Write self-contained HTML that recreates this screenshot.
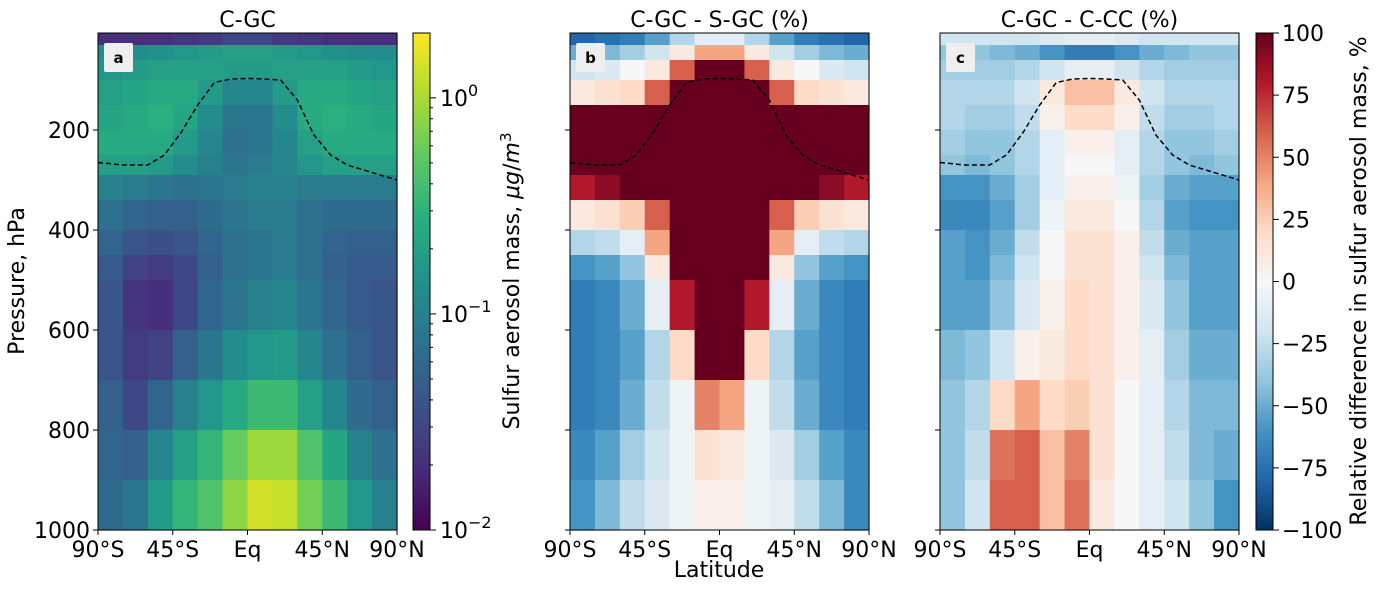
<!DOCTYPE html>
<html><head><meta charset="utf-8"><style>
html,body{margin:0;padding:0;background:#fff;}
svg{display:block;font-family:"DejaVu Sans","Liberation Sans",sans-serif;}
</style></head><body>
<svg id="fig" width="1376" height="589" viewBox="0 0 1376 589" xmlns="http://www.w3.org/2000/svg">
<defs>
<linearGradient id="gvir" x1="0" y1="1" x2="0" y2="0">
<stop offset="0" stop-color="#440154"/><stop offset="0.125" stop-color="#472d7b"/><stop offset="0.25" stop-color="#3b528b"/><stop offset="0.375" stop-color="#2c728e"/><stop offset="0.5" stop-color="#21918c"/><stop offset="0.625" stop-color="#28ae80"/><stop offset="0.75" stop-color="#5ec962"/><stop offset="0.875" stop-color="#addc30"/><stop offset="1" stop-color="#fde725"/>
</linearGradient>
<linearGradient id="grdbu" x1="0" y1="1" x2="0" y2="0">
<stop offset="0" stop-color="#053061"/><stop offset="0.1" stop-color="#2166ac"/><stop offset="0.2" stop-color="#4393c3"/><stop offset="0.3" stop-color="#92c5de"/><stop offset="0.4" stop-color="#d1e5f0"/><stop offset="0.5" stop-color="#f7f7f7"/><stop offset="0.6" stop-color="#fddbc7"/><stop offset="0.7" stop-color="#f4a582"/><stop offset="0.8" stop-color="#d6604d"/><stop offset="0.9" stop-color="#b2182b"/><stop offset="1" stop-color="#67001f"/>
</linearGradient>
</defs>
<g id="root"></g>
</svg>
<script>
// ---- data ----
const latEdges = [-90,-75,-60,-45,-30,-15,0,15,30,45,60,75,90];
const presEdges = [6,30,60,100,150,200,250,290,340,400,450,500,600,700,800,900,1000];
const xTickLats = [-90,-45,0,45,90];
const xTickLabels = ["90°S","45°S","Eq","45°N","90°N"];
const yTickVals = [200,400,600,800,1000];
const tropLat = [-90,-75,-60,-50,-40,-30,-20,-10,0,10,20,30,40,50,60,75,90];
const tropPres = [265,270,270,250,205,150,105,98,97,98,100,140,210,250,270,285,300];
// panel a: log10 of sulfur aerosol mass (ug/m3)
const massLog = [
[-1.7,-1.7,-1.7,-1.65,-1.6,-1.5,-1.5,-1.6,-1.65,-1.7,-1.7,-1.7],
[-0.9,-0.9,-0.85,-0.8,-0.75,-0.7,-0.7,-0.75,-0.8,-0.85,-0.9,-0.9],
[-0.8,-0.75,-0.7,-0.7,-0.7,-0.75,-0.75,-0.7,-0.7,-0.7,-0.75,-0.8],
[-0.7,-0.65,-0.6,-0.6,-0.75,-0.95,-0.95,-0.75,-0.6,-0.6,-0.65,-0.7],
[-0.65,-0.6,-0.55,-0.65,-0.9,-1.1,-1.1,-0.9,-0.6,-0.55,-0.6,-0.65],
[-0.6,-0.6,-0.6,-0.75,-0.95,-1.15,-1.1,-0.95,-0.7,-0.6,-0.6,-0.6],
[-0.7,-0.7,-0.75,-0.9,-1.0,-1.1,-1.05,-0.95,-0.8,-0.7,-0.7,-0.7],
[-1.0,-1.05,-1.1,-1.15,-1.1,-1.05,-1.0,-1.0,-1.05,-1.05,-1.05,-1.05],
[-1.15,-1.25,-1.3,-1.3,-1.2,-1.1,-1.05,-1.05,-1.15,-1.2,-1.2,-1.2],
[-1.25,-1.4,-1.45,-1.4,-1.25,-1.15,-1.1,-1.05,-1.15,-1.25,-1.3,-1.3],
[-1.35,-1.55,-1.6,-1.5,-1.3,-1.15,-1.1,-1.05,-1.15,-1.3,-1.35,-1.35],
[-1.4,-1.65,-1.7,-1.5,-1.25,-1.1,-1.0,-0.95,-1.1,-1.25,-1.35,-1.4],
[-1.4,-1.6,-1.55,-1.3,-1.1,-0.9,-0.8,-0.75,-0.95,-1.15,-1.3,-1.4],
[-1.3,-1.5,-1.25,-1.0,-0.8,-0.6,-0.45,-0.45,-0.7,-0.95,-1.2,-1.3],
[-1.25,-1.3,-0.95,-0.7,-0.5,-0.25,-0.05,-0.05,-0.35,-0.65,-1.0,-1.15],
[-1.2,-1.1,-0.75,-0.5,-0.35,-0.1,0.15,0.1,-0.2,-0.45,-0.8,-1.0]];
// panel b: C-GC vs S-GC relative difference (%)
const diffB = [
[-80,-75,-70,-55,-30,-10,-10,-30,-55,-70,-75,-80],
[-50,-45,-35,-20,10,40,40,10,-20,-35,-45,-50],
[-20,-15,0,10,60,110,110,60,10,0,-15,-20],
[10,15,20,60,120,120,120,120,60,20,15,10],
[110,110,110,110,110,110,110,110,110,110,110,110],
[110,110,110,110,110,110,110,110,110,110,110,110],
[110,110,110,110,110,110,110,110,110,110,110,110],
[80,90,110,110,110,110,110,110,110,110,90,80],
[10,15,25,60,110,110,110,110,60,25,15,10],
[-30,-25,-10,40,110,110,110,110,40,-10,-25,-30],
[-60,-55,-40,10,110,110,110,110,10,-40,-55,-60],
[-70,-65,-50,-10,80,110,110,80,-10,-50,-65,-70],
[-70,-65,-55,-30,20,110,110,20,-30,-55,-65,-70],
[-70,-65,-50,-25,-5,50,40,-5,-25,-50,-65,-70],
[-65,-55,-35,-20,-5,15,10,-5,-15,-35,-55,-65],
[-60,-45,-25,-15,-5,5,5,-5,-10,-25,-45,-65]];
// panel c: C-GC vs C-CC relative difference (%)
const diffC = [
[-20,-20,-20,-20,-15,-10,-10,-15,-20,-20,-20,-20],
[-40,-40,-45,-50,-60,-70,-70,-60,-50,-45,-40,-40],
[-35,-35,-35,-30,-20,-10,-10,-20,-30,-35,-35,-35],
[-30,-30,-30,-20,10,30,30,10,-20,-30,-30,-30],
[-30,-35,-35,-25,5,20,20,5,-25,-35,-35,-30],
[-35,-40,-40,-30,-10,5,5,-10,-30,-40,-40,-35],
[-40,-45,-40,-30,-10,0,0,-10,-30,-40,-45,-40],
[-60,-60,-50,-35,-10,5,5,-5,-35,-50,-55,-55],
[-65,-65,-55,-35,-5,10,10,0,-30,-55,-60,-60],
[-55,-60,-50,-25,0,15,15,5,-25,-50,-55,-55],
[-55,-60,-45,-20,0,15,15,5,-20,-45,-55,-55],
[-55,-55,-40,-15,5,20,15,5,-15,-40,-55,-55],
[-45,-40,-20,5,10,20,15,5,-10,-35,-50,-50],
[-40,-30,20,40,20,25,15,0,-10,-30,-45,-45],
[-40,-25,55,60,30,50,15,0,-10,-25,-45,-50],
[-40,-20,60,60,30,55,10,0,-10,-20,-40,-60]];

// ---- helpers ----
const NS="http://www.w3.org/2000/svg";
const root=document.getElementById('root');
function mk(tag,attrs,parent){const e=document.createElementNS(NS,tag);for(const k in attrs)e.setAttribute(k,attrs[k]);(parent||root).appendChild(e);return e;}
function hex(h){return [parseInt(h.slice(1,3),16),parseInt(h.slice(3,5),16),parseInt(h.slice(5,7),16)];}
function cmap(stops,t){t=Math.max(0,Math.min(1,t));const n=stops.length-1;const i=Math.min(n-1,Math.floor(t*n));const f=t*n-i;const a=hex(stops[i]),b=hex(stops[i+1]);return 'rgb('+a.map((v,k)=>Math.round(v+(b[k]-v)*f)).join(',')+')';}
const VIR=["#440154","#472d7b","#3b528b","#2c728e","#21918c","#28ae80","#5ec962","#addc30","#fde725"];
const RDBU=["#053061","#2166ac","#4393c3","#92c5de","#d1e5f0","#f7f7f7","#fddbc7","#f4a582","#d6604d","#b2182b","#67001f"];
const Y0=33,Y1=530,PW=299,FS=22;
function yP(p){return Y1-(1000-p)*(Y1-Y0)/(1000-6);}
function xL(x0,lat){return x0+(lat+90)/180*PW;}

function panel(x0,grid,colorFn,name,title,letter,showYLabels){
  const g=mk('g',{});
  
  
  for(let r=0;r<grid.length;r++){for(let c=0;c<grid[r].length;c++){
    const xa=xL(x0,latEdges[c]),xb=xL(x0,latEdges[c+1]);
    const ya=yP(presEdges[r]),yb=yP(presEdges[r+1]);
    const cell=mk('rect',{x:xa,y:ya,width:xb-xa+0.6,height:yb-ya+0.6,fill:colorFn(grid[r][c])},g);
    
    
  }}
  let d='';tropLat.forEach((l,i)=>{d+=(i?'L':'M')+xL(x0,l).toFixed(1)+','+yP(tropPres[i]).toFixed(1);});
  const tp=mk('path',{d:d,fill:'none',stroke:'#000','stroke-width':1.5,'stroke-dasharray':'5,3'},g);
  
  
  const fr=mk('rect',{x:x0,y:Y0,width:PW,height:Y1-Y0,fill:'none',stroke:'#000','stroke-width':1},g);
  
  
  const lb=mk('rect',{x:x0+6,y:Y0+10,width:29,height:29,fill:'#eeeeee',rx:2},g);
  
  
  const lt=mk('text',{x:x0+20.5,y:Y0+30,'font-size':15,'font-weight':'bold','text-anchor':'middle'},g);lt.textContent=letter;
  
  
  const tt=mk('text',{x:x0+PW/2,y:27,'font-size':FS,'text-anchor':'middle'},g);tt.textContent=title;
  
  
  xTickLats.forEach((l,i)=>{
    const x=xL(x0,l);
    const tk=mk('line',{x1:x,y1:Y1,x2:x,y2:Y1+5,stroke:'#000'},g);
    
    
    const tx=mk('text',{x:x,y:Y1+27,'font-size':FS,'text-anchor':'middle'},g);tx.textContent=xTickLabels[i];
    
    
  });
  yTickVals.forEach(v=>{
    const y=yP(v);
    const tk=mk('line',{x1:x0-5,y1:y,x2:x0,y2:y,stroke:'#000'},g);
    
    
    if(showYLabels){const tx=mk('text',{x:x0-8,y:y+8,'font-size':FS,'text-anchor':'end'},g);tx.textContent=v;
      
      }
  });
}
panel(98,massLog,v=>cmap(VIR,(v+2)/2.3),'panel-a-heatmap','C-GC','a',true);
panel(570,diffB,v=>cmap(RDBU,(v+100)/200),'panel-b-heatmap','C-GC - S-GC (%)','b',false);
panel(940,diffC,v=>cmap(RDBU,(v+100)/200),'panel-c-heatmap','C-GC - C-CC (%)','c',false);

let t=mk('text',{x:0,y:0,'font-size':FS,'text-anchor':'middle',transform:'translate(24,281) rotate(-90)'});t.textContent='Pressure, hPa';


t=mk('text',{x:719,y:577,'font-size':FS,'text-anchor':'middle'});t.textContent='Latitude';



const cbA=mk('rect',{x:413,y:Y0,width:17,height:Y1-Y0,fill:'url(#gvir)',stroke:'#000','stroke-width':1});


const decs=[-2,-1,0];
decs.forEach(dv=>{
  const y=Y1-(dv+2)/2.3*(Y1-Y0);
  mk('line',{x1:430,y1:y,x2:436,y2:y,stroke:'#000'});
  const tx=mk('text',{x:440,y:y+8,'font-size':FS});
  
  
  tx.innerHTML='10<tspan dy="-10" font-size="16">'+(dv<0?'−'+(-dv):dv)+'</tspan>';
  for(let m=2;m<=9;m++){const lv=dv+Math.log10(m);if(lv>0.3)break;const ym=Y1-(lv+2)/2.3*(Y1-Y0);mk('line',{x1:430,y1:ym,x2:433,y2:ym,stroke:'#000'});}
});
t=mk('text',{x:0,y:0,'font-size':FS,'text-anchor':'middle',transform:'translate(519,281) rotate(-90)'});
t.innerHTML='Sulfur aerosol mass, <tspan font-style="italic">μg</tspan>/<tspan font-style="italic">m</tspan><tspan dy="-8" font-size="15">3</tspan>';



const cbC=mk('rect',{x:1256,y:Y0,width:17,height:Y1-Y0,fill:'url(#grdbu)',stroke:'#000','stroke-width':1});


const cbTicks=[-100,-75,-50,-25,0,25,50,75,100];
cbTicks.forEach(v=>{
  const y=Y1-(v+100)/200*(Y1-Y0);
  mk('line',{x1:1273,y1:y,x2:1279,y2:y,stroke:'#000'});
  const tx=mk('text',{x:1282,y:y+8,'font-size':FS});tx.textContent=(v<0?'−'+(-v):v);
  
  
});
t=mk('text',{x:0,y:0,'font-size':FS,'text-anchor':'middle',transform:'translate(1366,281) rotate(-90)'});t.textContent='Relative difference in sulfur aerosol mass, %';


</script>
</body></html>
